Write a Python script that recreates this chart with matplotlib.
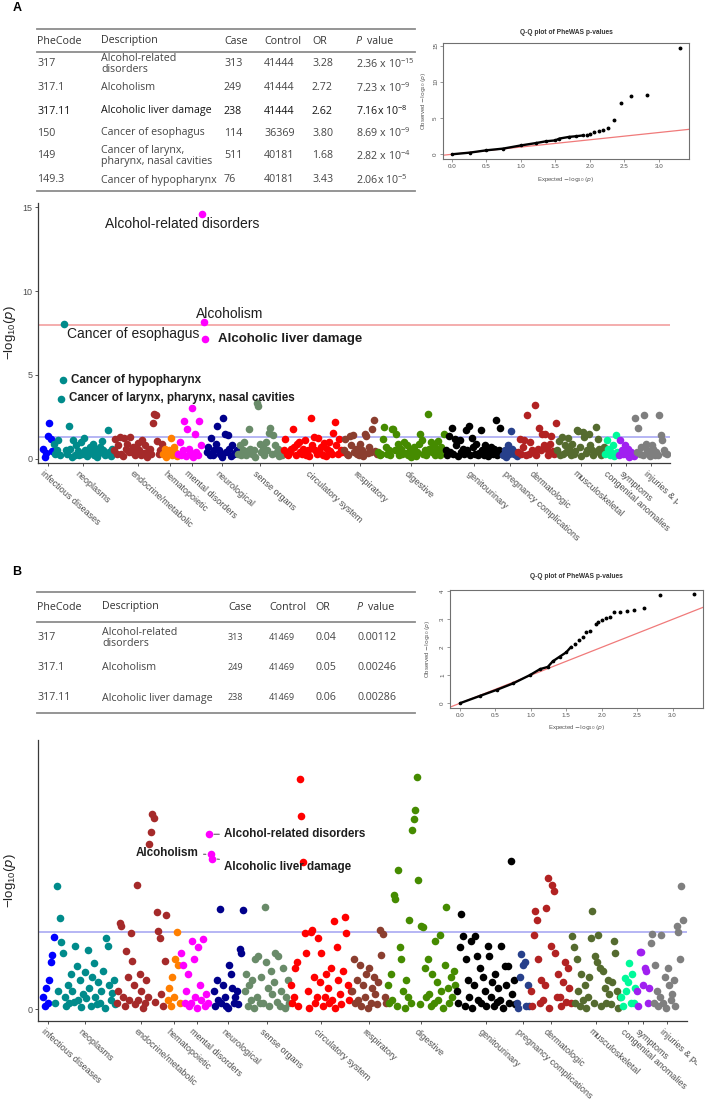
import numpy as np
import matplotlib
matplotlib.use("Agg")
import matplotlib.pyplot as plt
from matplotlib.lines import Line2D
from matplotlib.transforms import Bbox, TransformedBbox, blended_transform_factory, offset_copy

plt.rcParams['font.family'] = ['Liberation Sans', 'DejaVu Sans']

# ---------------------------------------------------------------- data
categories = ["infectious diseases", "neoplasms", "endocrine/metabolic", "hematopoietic",
              "mental disorders", "neurological", "sense organs", "circulatory system",
              "respiratory", "digestive", "genitourinary", "pregnancy complications",
              "dermatologic", "musculoskeletal", "congenital anomalies", "symptoms",
              "injuries & poisonings"]
cat_colors = ["#0000FF", "#008B8B", "#A52A2A", "#FF7F00", "#FF00FF", "#00008B", "#698B69",
              "#FF0000", "#8B3E2F", "#458B00", "#000000", "#27408B", "#B22222", "#556B2F",
              "#00FA9A", "#A020F0", "#7F7F7F"]

# Panel A  (-log10 p per phecode, grouped by category)
a_infectious = [0.6, 0.1, 0.35, 1.33, 2.12, 1.2, 0.45]
a_neoplasms = [0.9, 0.3, 0.5, 1.1, 0.2, 3.55, 4.69, 8.06, 0.5, 0.3, 1.96, 0.6, 0.1, 1.1, 0.2, 0.8,
               0.45, 0.25, 1.0, 0.3, 1.25, 0.55, 0.15, 0.4, 0.7, 0.4, 0.9, 0.25, 0.6, 0.1, 0.35,
               0.7, 1.05, 0.5, 0.2, 0.3, 1.7, 0.4, 0.15, 0.6]
a_endocrine = [0.5, 1.2, 0.3, 0.8, 1.3, 0.3, 0.15, 1.25, 0.6, 0.9, 0.4, 1.3, 0.4, 0.7, 0.2, 0.5,
               0.95, 0.55, 0.25, 1.1, 0.35, 0.8, 0.1, 0.45, 0.6, 0.3, 2.15, 2.7, 2.6, 1.05, 0.3,
               0.5, 0.9]
a_hematopoietic = [0.3, 0.6, 0.1, 0.4, 0.5, 1.22, 0.2, 0.7, 0.4, 0.15]
a_mental = [0.3, 1.0, 0.2, 0.55, 2.25, 0.15, 1.8, 0.6, 0.4, 3.0, 0.1, 1.5, 0.4, 0.25, 2.25, 0.8,
            14.6, 8.14, 7.15]
a_neurological = [0.4, 0.7, 0.2, 1.25, 0.2, 0.5, 0.9, 1.95, 0.5, 0.3, 0.1, 2.45, 1.45, 0.4, 1.4,
                  0.6, 0.15, 0.8, 0.3, 0.35, 0.55]
a_sense = [0.3, 0.8, 0.2, 0.5, 1.0, 0.2, 0.45, 1.75, 0.6, 0.3, 0.5, 0.1, 3.35, 3.15, 0.9, 0.4,
           0.7, 0.25, 1.0, 0.55, 1.55, 1.85, 0.3, 1.4, 0.8, 0.35, 0.6, 0.15, 0.45, 0.25]
a_circulatory = [0.5, 1.2, 0.3, 0.2, 0.4, 0.6, 1.8, 0.7, 0.2, 0.9, 1.0, 0.4, 0.3, 0.6, 1.1, 0.25,
                 0.5, 0.15, 2.45, 0.8, 1.3, 0.5, 0.3, 1.25, 0.35, 0.7, 0.2, 0.95, 0.15, 0.6, 1.0,
                 0.45, 0.3, 1.55, 2.2, 0.8, 0.3, 1.2, 0.55, 0.4]
a_respiratory = [0.5, 1.2, 0.3, 0.2, 1.35, 0.8, 1.4, 0.4, 0.6, 0.3, 0.2, 0.9, 0.5, 0.15, 1.45,
                 1.35, 0.35, 0.7, 0.4, 1.8, 2.3, 0.45, 0.3]
a_digestive = [0.4, 0.2, 0.3, 1.2, 1.9, 0.7, 0.3, 0.5, 0.2, 1.8, 1.75, 0.5, 1.5, 0.9, 0.2, 0.6,
               0.3, 1.0, 0.35, 0.8, 0.25, 0.55, 0.1, 0.45, 0.7, 0.15, 0.4, 0.9, 1.45, 1.1, 0.3,
               0.5, 0.2, 2.7, 0.6, 1.0, 0.4, 0.8, 0.25, 0.5, 1.05, 0.2, 0.7, 0.35, 1.5]
a_genitourinary = [0.5, 0.2, 1.35, 0.4, 1.85, 0.3, 1.2, 0.8, 0.15, 1.15, 0.4, 0.6, 0.3, 1.7, 0.5,
                   1.95, 0.2, 1.25, 0.7, 0.3, 0.9, 0.2, 0.35, 1.7, 0.5, 0.25, 0.8, 0.6, 0.15, 0.45,
                   0.7, 0.3, 0.6, 2.3, 0.2, 0.55, 1.85, 0.4]
a_pregnancy = [0.2, 0.5, 0.1, 0.8, 0.3, 1.65, 0.6, 0.3, 0.4, 0.15]
a_dermatologic = [0.4, 1.2, 0.3, 0.7, 1.1, 0.2, 2.6, 0.3, 1.0, 0.5, 0.4, 3.2, 0.2, 0.6, 1.85, 0.5,
                  1.5, 0.8, 1.45, 0.6, 0.25, 0.9, 1.35, 0.45, 0.3, 2.15]
a_musculoskeletal = [0.5, 1.05, 0.2, 1.3, 0.3, 0.8, 0.4, 1.25, 0.6, 0.2, 0.9, 0.3, 0.45, 1.7, 1.65,
                     0.7, 0.15, 1.6, 1.3, 0.35, 0.5, 1.5, 0.8, 0.55, 0.25, 0.4, 1.9, 1.2, 0.6, 0.2,
                     0.4, 0.7]
a_congenital = [0.3, 1.1, 0.6, 0.2, 0.4, 0.8, 0.15, 1.4, 0.4]
a_symptoms = [0.2, 1.15, 0.5, 0.3, 0.8, 0.3, 0.6, 0.1, 0.4, 0.25, 0.15]
a_injuries = [2.45, 0.4, 1.85, 0.3, 0.7, 0.2, 2.6, 0.9, 0.5, 0.3, 0.15, 0.8, 0.6, 0.25, 0.4, 0.2,
              2.6, 1.4, 1.15, 0.5, 0.35, 0.3]

# Panel B
b_infectious = [0.2, 0.05, 0.36, 0.1, 0.5, 0.8, 0.92, 1.22]
b_neoplasms = [0.1, 2.08, 0.3, 1.54, 1.14, 0.95, 0.2, 0.05, 0.4, 0.1, 0.6, 0.3, 0.12, 1.07, 0.72,
               0.15, 0.5, 0.03, 0.25, 0.62, 0.18, 1.0, 0.35, 0.05, 0.55, 0.78, 0.2, 0.08, 0.45,
               0.1, 0.3, 0.65, 0.02, 1.2, 1.07, 0.4, 0.15, 0.28, 0.5, 0.08]
b_endocrine = [0.1, 0.3, 1.45, 1.4, 0.2, 0.05, 0.98, 0.55, 0.15, 1.28, 0.82, 0.4, 0.08, 2.09, 0.15,
               0.6, 0.3, 0.02, 0.1, 0.5, 0.2, 2.78, 2.99, 3.3, 3.22, 0.12, 1.64, 1.31, 1.2, 0.25,
               0.05, 0.82, 1.59]
b_hematopoietic = [0.15, 0.35, 0.05, 0.55, 0.2, 0.84, 1.3, 0.75, 0.1]
b_mental = [0.95, 0.75, 0.1, 0.3, 0.6, 0.05, 0.1, 1.15, 0.85, 0.2, 0.02, 1.05, 0.4, 0.15, 1.19,
            0.05, 0.25, 0.1, 2.95, 2.61, 2.54]
b_neurological = [0.3, 0.05, 0.5, 0.15, 1.69, 0.1, 0.4, 0.2, 0.05, 0.02, 0.75, 0.6, 0.35, 0.1, 0.2,
                  0.3, 0.08, 1.01, 0.95, 1.68]
b_sense = [0.3, 0.6, 0.05, 0.4, 0.15, 0.5, 0.02, 0.85, 0.2, 0.9, 0.1, 0.55, 0.1, 1.72, 0.8, 0.35,
           0.05, 0.65, 0.25, 0.45, 0.95, 0.12, 0.9, 0.05, 0.3, 0.7, 0.02, 0.2, 0.5, 0.1]
b_circulatory = [0.4, 0.1, 0.2, 0.7, 0.8, 0.05, 3.88, 3.25, 2.48, 1.28, 0.95, 0.3, 0.02, 1.3, 1.33,
                 0.55, 0.1, 0.2, 1.2, 0.45, 0.95, 0.05, 0.2, 0.6, 0.35, 0.1, 0.7, 0.15, 1.48, 0.02,
                 1.05, 0.5, 0.25, 0.08, 0.65, 1.55, 1.28, 0.4, 0.15, 0.3]
b_respiratory = [0.3, 0.85, 0.1, 0.5, 0.15, 0.75, 0.05, 0.4, 0.2, 0.6, 0.02, 0.7, 0.1, 0.35, 0.55,
                 0.25, 0.08, 0.45, 1.33, 0.92, 1.27, 0.2, 0.1]
b_digestive = [0.4, 0.1, 0.6, 0.15, 1.93, 1.85, 0.05, 2.34, 1.05, 0.85, 0.3, 0.02, 0.5, 0.2, 1.51,
               0.1, 3.02, 3.2, 3.36, 3.92, 2.18, 0.08, 1.4, 1.38, 0.7, 0.2, 0.85, 0.25, 0.05, 0.6,
               0.1, 1.15, 0.45, 0.15, 1.25, 0.3, 0.02, 0.75, 1.73, 0.35, 0.1, 0.55, 0.2, 0.65, 0.4]
b_genitourinary = [0.3, 0.1, 1.05, 1.6, 1.23, 0.05, 0.85, 0.5, 0.2, 1.15, 0.02, 0.4, 1.23, 0.9,
                   0.15, 0.7, 0.1, 0.55, 0.3, 0.05, 1.07, 0.9, 0.2, 0.45, 0.05, 0.6, 0.12, 0.35,
                   0.15, 1.07, 0.02, 0.72, 0.4, 0.72, 0.1, 2.5, 0.25, 0.5, 0.08]
b_pregnancy = [0.1, 0.02, 0.55, 0.93, 0.75, 0.8, 0.05, 0.4, 0.05]
b_dermatologic = [0.3, 0.05, 1.25, 1.65, 1.51, 0.85, 0.1, 0.5, 0.15, 0.4, 1.71, 2.22, 0.02, 1.06,
                  2.1, 1.99, 0.95, 0.2, 0.6, 0.2, 0.05, 0.45, 0.8, 0.12, 0.7, 0.35, 0.1]
b_musculoskeletal = [1.24, 1.05, 0.1, 0.85, 0.3, 0.05, 0.6, 0.15, 0.4, 0.02, 0.2, 0.55, 1.2, 1.65,
                     0.1, 0.9, 0.8, 1.25, 0.7, 0.05, 0.65, 0.35, 0.1, 0.5, 0.25, 0.08, 0.45, 1.15,
                     0.95, 0.3, 0.02, 0.2]
b_congenital = [0.2, 0.05, 0.53, 0.3, 0.45, 0.77, 0.1, 0.6, 0.1, 0.35]
b_symptoms = [0.3, 0.05, 0.96, 0.96, 0.4, 0.7, 0.65, 0.1, 0.35]
b_injuries = [1.11, 1.27, 0.1, 0.75, 0.3, 0.05, 0.2, 1.25, 0.1, 0.55, 0.02, 0.7, 0.4, 0.15, 0.25,
              0.5, 0.05, 1.41, 1.3, 0.85, 2.07, 1.5]

panel_a = [a_infectious, a_neoplasms, a_endocrine, a_hematopoietic, a_mental, a_neurological,
           a_sense, a_circulatory, a_respiratory, a_digestive, a_genitourinary, a_pregnancy,
           a_dermatologic, a_musculoskeletal, a_congenital, a_symptoms, a_injuries]
panel_b = [b_infectious, b_neoplasms, b_endocrine, b_hematopoietic, b_mental, b_neurological,
           b_sense, b_circulatory, b_respiratory, b_digestive, b_genitourinary, b_pregnancy,
           b_dermatologic, b_musculoskeletal, b_congenital, b_symptoms, b_injuries]

# Q-Q data (expected vs observed -log10 p)
qq_a_bulk_exp = [0.0, 0.26, 0.5, 0.74, 1.0, 1.22, 1.37, 1.5, 1.56, 1.7, 1.8, 1.9]
qq_a_bulk_obs = [0.0, 0.23, 0.55, 0.78, 1.22, 1.55, 1.8, 1.92, 2.17, 2.4, 2.49, 2.6]
qq_a_tail_exp = [1.96, 2.01, 2.06, 2.13, 2.19, 2.27, 2.35, 2.46, 2.6, 2.83, 3.31]
qq_a_tail_obs = [2.67, 2.86, 3.04, 3.18, 3.32, 3.6, 4.7, 7.14, 8.02, 8.16, 14.6]
qq_b_bulk_exp = [0.0, 0.28, 0.52, 0.75, 0.99, 1.13, 1.24, 1.31, 1.41, 1.5, 1.57]
qq_b_bulk_obs = [0.0, 0.26, 0.48, 0.71, 1.01, 1.22, 1.3, 1.5, 1.67, 1.82, 2.02]
qq_b_tail_exp = [1.62, 1.68, 1.74, 1.78, 1.83, 1.92, 1.95, 2.0, 2.06, 2.12, 2.18, 2.26, 2.36, 2.46,
                 2.6, 2.83, 3.3]
qq_b_tail_obs = [2.12, 2.26, 2.38, 2.54, 2.57, 2.83, 2.9, 2.96, 3.04, 3.07, 3.25, 3.25, 3.29, 3.32,
                 3.39, 3.88, 3.92]

# Tables
tbl_a_code = ["317", "317.1", "317.11", "150", "149", "149.3"]
tbl_a_desc = ["Alcohol-related\ndisorders", "Alcoholism", "Alcoholic liver damage",
              "Cancer of esophagus", "Cancer of larynx,\npharynx, nasal cavities",
              "Cancer of hypopharynx"]
tbl_a_case = ["313", "249", "238", "114", "511", "76"]
tbl_a_control = ["41444", "41444", "41444", "36369", "40181", "40181"]
tbl_a_or = ["3.28", "2.72", "2.62", "3.80", "1.68", "3.43"]
tbl_a_p = [r"2.36 x 10$^{\mathregular{-15}}$", r"7.23 x 10$^{\mathregular{-9}}$",
           r"7.16x 10$^{\mathregular{-8}}$", r"8.69 x 10$^{\mathregular{-9}}$",
           r"2.82 x 10$^{\mathregular{-4}}$", r"2.06x 10$^{\mathregular{-5}}$"]
tbl_b_code = ["317", "317.1", "317.11"]
tbl_b_desc = ["Alcohol-related\ndisorders", "Alcoholism", "Alcoholic liver damage"]
tbl_b_case = ["313", "249", "238"]
tbl_b_control = ["41469", "41469", "41469"]
tbl_b_or = ["0.04", "0.05", "0.06"]
tbl_b_p = ["0.00112", "0.00246", "0.00286"]

sig_line = -np.log10(0.05)
gw_line = -np.log10(1e-8)

# ---------------------------------------------------------------- figure
W, H = 709, 1102
fig = plt.figure(figsize=(W / 100, H / 100), dpi=100)


def fx(x):
    return x / W


def fy(y):
    return 1 - y / H


def rect(l, t, r, b):
    return [fx(l), fy(b), (r - l) / W, (b - t) / H]


def rule(x0, x1, y, lw=1.3, color='#8c8c8c'):
    fig.add_artist(Line2D([fx(x0), fx(x1)], [fy(y), fy(y)], lw=lw, color=color))


TF = ['Open Sans', 'DejaVu Sans']


def draw_table(codes, descs, cases, controls, ors, pvals, col_x, top, head, head_rule, rows_y,
               bottom, cc_size, dark_row=None):
    rule(37, 415, top)
    rule(37, 415, head_rule)
    rule(37, 415, bottom)
    kw = dict(family=TF, fontsize=7.7, va='center', ha='left', color='#333333')
    for x, h in zip(col_x[:5], ["PheCode", "Description", "Case", "Control", "OR"]):
        fig.text(fx(x), fy(head), h, **kw)
    fig.text(fx(col_x[5]), fy(head), "P", style='italic', **kw)
    fig.text(fx(col_x[5] + 11), fy(head), "value", **kw)
    for i, y in enumerate(rows_y):
        col = '#151515' if i == dark_row else '#454545'
        rk = dict(family=TF, fontsize=7.7, va='center', ha='left', color=col)
        fig.text(fx(col_x[0]), fy(y), codes[i], **rk)
        fig.text(fx(col_x[1]), fy(y), descs[i], linespacing=0.95, **rk)
        ck = dict(rk)
        ck['fontsize'] = cc_size
        fig.text(fx(col_x[2]), fy(y), cases[i], **ck)
        fig.text(fx(col_x[3]), fy(y), controls[i], **ck)
        fig.text(fx(col_x[4]), fy(y), ors[i], **rk)
        fig.text(fx(col_x[5]), fy(y), pvals[i], **rk)


def qq_panel(r, bulk_e, bulk_o, tail_e, tail_o, xlim, ylim, yticks, title_y, xlab_y, ylab_x):
    ax = fig.add_axes(r)
    ax.axline((0, 0), slope=1, color='#F07A7A', lw=0.9, zorder=1)
    ax.plot(bulk_e, bulk_o, color='black', lw=1.7, zorder=2, solid_capstyle='round')
    ax.plot(bulk_e, bulk_o, 'o', color='black', ms=1.6, zorder=3)
    ax.plot(tail_e, tail_o, 'o', color='black', ms=1.8, zorder=3, ls='none')
    ax.set_xlim(xlim)
    ax.set_ylim(ylim)
    ax.set_xticks([0, 0.5, 1, 1.5, 2, 2.5, 3])
    ax.set_xticklabels(['0.0', '0.5', '1.0', '1.5', '2.0', '2.5', '3.0'])
    ax.set_yticks(yticks)
    for s in ax.spines.values():
        s.set_color('#707070')
        s.set_linewidth(0.8)
    ax.tick_params(labelsize=4.5, length=2, width=0.5, colors='#707070', labelcolor='#505050',
                   pad=1.5)
    plt.setp(ax.get_yticklabels(), rotation=90, va='center')
    x_mid = r[0] + r[2] / 2
    fig.text(x_mid, fy(title_y), "Q-Q plot of PheWAS p-values", ha='center', va='center',
             fontsize=4.8, fontweight='bold', color='#333333')
    fig.text(x_mid, fy(xlab_y), r"Expected $-\log_{10}(p)$", ha='center', va='center',
             fontsize=4.3, color='#555555')
    fig.text(fx(ylab_x), r[1] + r[3] / 2, r"Observed $-\log_{10}(p)$", ha='center', va='center',
             rotation=90, fontsize=4.3, color='#555555')
    return ax


def manhattan(r, groups, xlim, ylim, yticks, hlines, labels, clip_x, with_lines):
    ax = fig.add_axes(r)
    width_px = r[2] * W
    start = 0
    starts, centers = [], []
    for vals, col in zip(groups, cat_colors):
        xs = np.arange(start, start + len(vals))
        ax.scatter(xs, vals, s=30, color=col, linewidths=0, zorder=3)
        starts.append(start)
        centers.append(start + (len(vals) - 1) / 2)
        start += len(vals)
    for yv, col in hlines:
        ax.axhline(yv, color=col, lw=1.2, zorder=2)
    ax.set_xlim(xlim)
    ax.set_ylim(ylim)
    ax.set_yticks(yticks)
    ax.set_yticklabels([str(t) for t in yticks])
    ax.set_xticks(centers)
    ax.set_xticklabels([])
    for s in ['top', 'right']:
        ax.spines[s].set_visible(False)
    for s in ['left', 'bottom']:
        ax.spines[s].set_color('#3a3a3a')
        ax.spines[s].set_linewidth(0.9)
    ax.tick_params(axis='both', colors='#3a3a3a', labelcolor='#4d4d4d', labelsize=6.5,
                   length=2.5, width=0.6, pad=1.5)
    ax.set_ylabel(r"$\mathregular{-log}_{\mathregular{10}}\mathregular{(}p\mathregular{)}$",
                  fontsize=9.5, color='#222222')
    ax.yaxis.set_label_coords(-20 / width_px, 0.5)
    base = blended_transform_factory(ax.transData, ax.transAxes)
    tr = offset_copy(base, fig=fig, x=-3, y=-6, units='dots')
    clip = TransformedBbox(Bbox([[0, 0], [clip_x / W, 1]]), fig.transFigure)
    for c, name in zip(centers, categories):
        t = ax.text(c, 0, name, transform=tr, rotation=-42, rotation_mode='anchor', ha='left',
                    va='top', fontsize=6.5, color='#4d4d4d', clip_on=True)
        t.set_clip_box(clip)
    for ci, ii, text, dx, dy, ha, wt, fs in labels:
        k = ii % len(groups[ci])
        xp = starts[ci] + k
        yp = groups[ci][k]
        kw = dict(xy=(xp, yp), xytext=(dx * 0.72, dy * 0.72), textcoords='offset points', ha=ha,
                  va='center', fontsize=fs, fontweight=wt, color='#1e1e1e', zorder=5)
        if with_lines:
            kw['arrowprops'] = dict(arrowstyle='-', color='#606060', lw=0.8, shrinkA=1.5,
                                    shrinkB=3.5)
        ax.annotate(text, **kw)
    return ax


# ---------------- panel A
fig.text(fx(17), fy(8), "A", fontsize=9, fontweight='bold', ha='center', va='center')
draw_table(tbl_a_code, tbl_a_desc, tbl_a_case, tbl_a_control, tbl_a_or, tbl_a_p,
           [37, 101, 224, 264, 312, 356], 29, 41, 52, [64, 88, 111, 133, 156, 180], 191, 7.7,
           dark_row=2)
qq_panel(rect(443, 43, 689, 159), qq_a_bulk_exp, qq_a_bulk_obs, qq_a_tail_exp, qq_a_tail_obs,
         (-0.13, 3.44), (-0.65, 15.35), [0, 5, 10, 15], 32, 180, 423)

labels_a = [
    (4, -3, "Alcohol-related disorders", -20, -10.3, 'center', 'normal', 10),
    (4, -2, "Alcoholism", 25.5, 8.2, 'center', 'normal', 10),
    (4, -1, "Alcoholic liver damage", 13, 0, 'left', 'bold', 9.5),
    (1, 7, "Cancer of esophagus", 3, -10.4, 'left', 'normal', 10),
    (1, 6, "Cancer of hypopharynx", 8, 0, 'left', 'bold', 8.4),
    (1, 5, "Cancer of larynx, pharynx, nasal cavities", 8, 1.4, 'left', 'bold', 8.4),
]
n_a = sum(len(g) for g in panel_a)
step_a = (667 - 43) / (n_a - 1)
manhattan(rect(38, 203, 670, 463), panel_a, (-5 / step_a, n_a - 1 + 3 / step_a), (-0.25, 15.25),
          [0, 5, 10, 15], [(gw_line, '#F2A0A0'), (sig_line, '#A9A9F2')], labels_a, 678, False)

# ---------------- panel B
fig.text(fx(17), fy(572), "B", fontsize=9, fontweight='bold', ha='center', va='center')
draw_table(tbl_b_code, tbl_b_desc, tbl_b_case, tbl_b_control, tbl_b_or, tbl_b_p,
           [37, 102, 228, 269, 315, 357], 592, 607, 622, [638, 668, 698], 713, 6.5)
qq_panel(rect(450, 590, 703, 708), qq_b_bulk_exp, qq_b_bulk_obs, qq_b_tail_exp, qq_b_tail_obs,
         (-0.14, 3.43), (-0.17, 4.05), [0, 1, 2, 3, 4], 577, 727, 428)

labels_b = [
    (4, -3, "Alcohol-related disorders", 15, 0, 'left', 'bold', 8.4),
    (4, -2, "Alcoholism", -12, 1, 'right', 'bold', 8.4),
    (4, -1, "Alcoholic liver damage", 12, -8, 'left', 'bold', 8.4),
]
n_b = sum(len(g) for g in panel_b)
step_b = (683 - 43) / (n_b - 1)
manhattan(rect(38, 740, 687, 1021), panel_b, (-5 / step_b, n_b - 1 + 4 / step_b), (-0.2, 4.54),
          [0], [(sig_line, '#A9A9F2')], labels_b, 697, True)

fig.savefig("out.png", dpi=100)
